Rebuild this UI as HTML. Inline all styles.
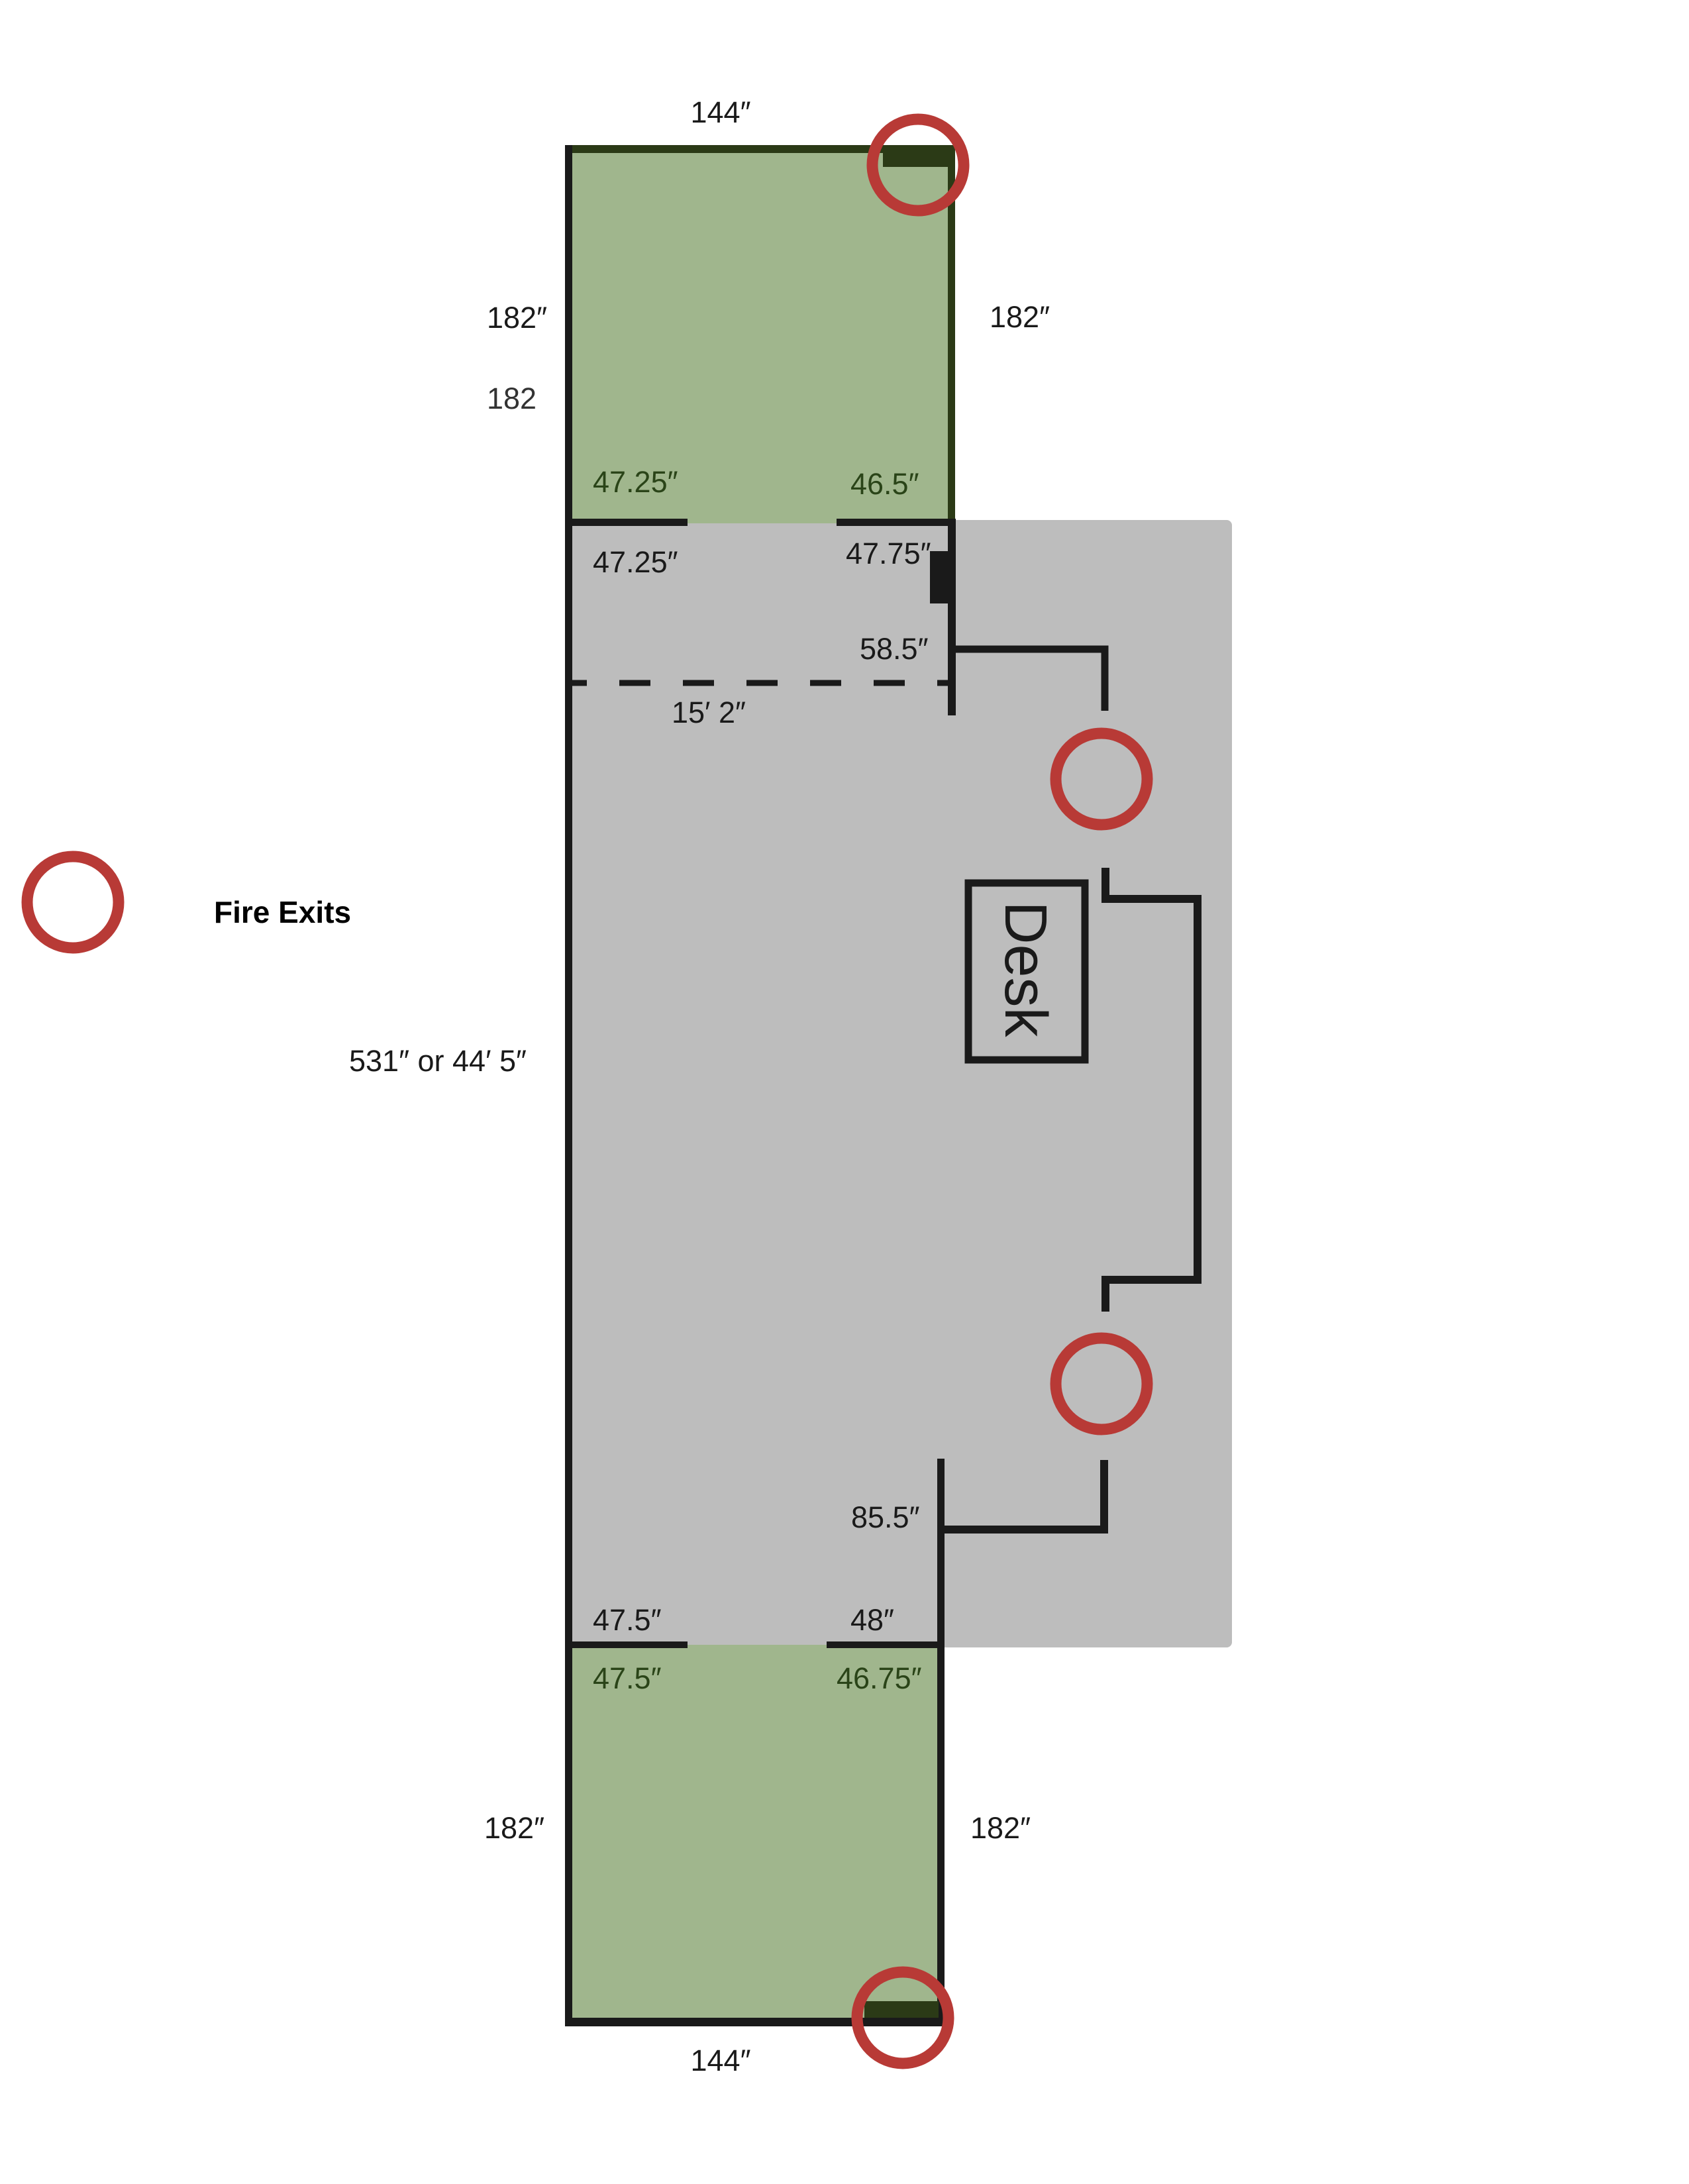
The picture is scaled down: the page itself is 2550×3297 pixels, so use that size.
<!DOCTYPE html>
<html><head><meta charset="utf-8"><style>
html,body{margin:0;padding:0;background:#fff;}
svg{display:block;}
text{font-family:"Liberation Sans",sans-serif;font-size:45px;fill:#1a1a1a;}
.g{fill:#2a4418;}
</style></head><body>
<svg width="2550" height="3297" viewBox="0 0 2550 3297" xmlns="http://www.w3.org/2000/svg">
<rect width="2550" height="3297" fill="#fff"/>
<rect x="853" y="785" width="1007" height="1702" rx="8" fill="#bdbdbd"/>
<rect x="853" y="219" width="589" height="571" fill="#a0b68d"/>
<rect x="853" y="2483" width="573" height="576" fill="#a0b68d"/>
<rect x="853" y="219" width="589" height="12" fill="#2b3a16"/>
<rect x="1333" y="219" width="109" height="33" fill="#2b3a16"/>
<rect x="1431" y="219" width="11" height="571" fill="#2b3a16"/>
<rect x="853" y="219" width="11" height="2840" fill="#1a1a1a"/>
<rect x="853" y="783" width="185" height="11" fill="#1a1a1a"/>
<rect x="1263" y="783" width="179" height="11" fill="#1a1a1a"/>
<rect x="1431" y="783" width="12" height="297" fill="#1a1a1a"/>
<rect x="1404" y="832" width="30" height="79" fill="#1a1a1a"/>
<path d="M1443 980 H1668 V1073" fill="none" stroke="#1a1a1a" stroke-width="11"/>
<line x1="864" y1="1031" x2="1431" y2="1031" stroke="#1a1a1a" stroke-width="9" stroke-dasharray="0 0 22 49 47 49 47 49 47 49 47 49 47 49 47 49 47 49"/>
<path d="M1669 1310 V1357 H1808 V1932 H1669 V1980" fill="none" stroke="#1a1a1a" stroke-width="12"/>
<rect x="1462" y="1333" width="176" height="267" fill="none" stroke="#1a1a1a" stroke-width="11"/>
<text x="0" y="0" transform="translate(1518,1463) rotate(90)" text-anchor="middle" style="font-size:90px">Desk</text>
<rect x="1415" y="2202" width="11" height="857" fill="#1a1a1a"/>
<path d="M1426 2309 H1667 V2204" fill="none" stroke="#1a1a1a" stroke-width="12"/>
<rect x="853" y="2478" width="185" height="10" fill="#1a1a1a"/>
<rect x="1248" y="2478" width="178" height="10" fill="#1a1a1a"/>
<rect x="853" y="3046" width="573" height="13" fill="#1a1a1a"/>
<rect x="1305" y="3021" width="112" height="25" fill="#2b3a16"/>
<rect x="1417" y="2488" width="9" height="558" fill="#1a1a1a"/>
<g fill="none" stroke="#b83a36" stroke-width="17">
<circle cx="1386" cy="249" r="69"/>
<circle cx="1663" cy="1176" r="69"/>
<circle cx="1663" cy="2089" r="69"/>
<circle cx="1363" cy="3046" r="69"/>
<circle cx="110" cy="1362" r="69"/>
</g>
<text x="1088" y="185" text-anchor="middle">144″</text>
<text x="735" y="495">182″</text>
<text x="735" y="617" style="fill:#333">182</text>
<text x="1494" y="494">182″</text>
<text class="g" x="895" y="743">47.25″</text>
<text class="g" x="1284" y="746">46.5″</text>
<text x="895" y="864">47.25″</text>
<text x="1277" y="851">47.75″</text>
<text x="1298" y="995">58.5″</text>
<text x="1014" y="1091">15′ 2″</text>
<text x="323" y="1393" style="font-weight:bold;font-size:46px;fill:#000">Fire Exits</text>
<text x="527" y="1617">531″ or 44′ 5″</text>
<text x="1285" y="2306">85.5″</text>
<text x="895" y="2461">47.5″</text>
<text x="1284" y="2461">48″</text>
<text class="g" x="895" y="2549">47.5″</text>
<text class="g" x="1263" y="2549">46.75″</text>
<text x="731" y="2775">182″</text>
<text x="1465" y="2775">182″</text>
<text x="1088" y="3126" text-anchor="middle">144″</text>
</svg>
</body></html>
